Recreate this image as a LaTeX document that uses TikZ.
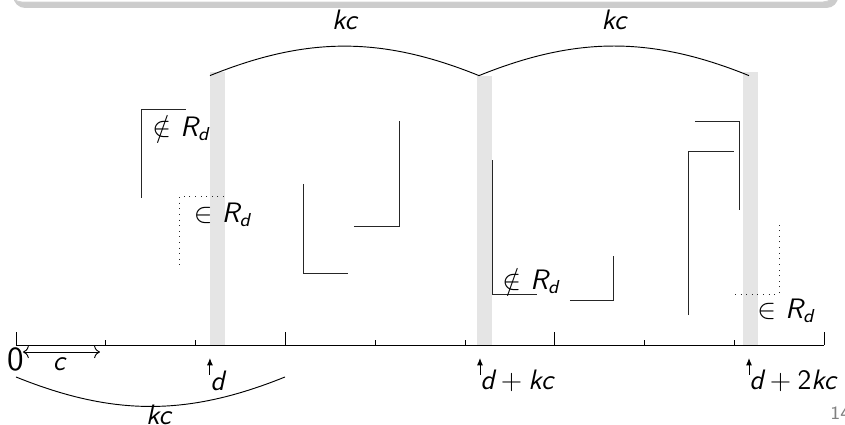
\documentclass[tikz,border=0pt,11pt]{standalone}
\usepackage{amsmath,amssymb}
\usepackage{tikz}
\usetikzlibrary{positioning,arrows.meta,shadows}

\begin{document}
\begin{tikzpicture}[x=1.347cm, y=1.347cm,
        seg/.style={black!85},
        segd/.style={black!85, dotted},
        band/.style={fill=gray!20, draw=none},
        lbl/.style={font=\large\sffamily\slshape, inner sep=1pt},
        mk/.style={-{Latex[length=1.1mm, width=0.9mm]}},
        pg/.style={font=\scriptsize\sffamily, gray, inner sep=0pt}
    ]
    \clip (-0.178,-0.880) rectangle (9.232,3.842);

    %% ---- block frame (lower edge) ----
    \path[fill=white, draw=gray!35, rounded corners=5pt,
          drop shadow={shadow xshift=0.5mm, shadow yshift=-0.9mm, opacity=0.4}]
          (-0.067,3.82) rectangle (9.12,4.6);

    %% ---- shaded columns ----
    \foreach \x/\t in {2.16/3.04, 5.134/2.996, 8.096/3.04}
        \fill[band] (\x,0) rectangle ++(0.167,\t);

    %% ---- axis ----
    \coordinate (o) at (0,0);
    \coordinate (e) at (9,0);
    \draw (o) -- (e);
    \foreach \i in {0,3,6,9}
        \draw (\i,0) -- ++(0,0.145);
    \foreach \i in {1,2,4,5,7,8}
        \draw (\i,0) -- ++(0,0.056);
    \node[lbl, font=\Large\sffamily] (zero) at (0,-0.156) {0};
    % c
    \coordinate (c0) at (0.078,-0.078);
    \coordinate (c1) at (0.935,-0.078);
    \draw[<->] (c0) -- (c1);
    \node[lbl] (cl) at (0.479,-0.212) {c};
    % kc below
    \coordinate (q0) at (0,-0.356);
    \coordinate (q1) at (2.996,-0.356);
    \draw (q0) to[bend right=22] node[lbl, below=-2pt, xshift=1.2mm] (kc0) {kc} (q1);

    %% ---- d, d+kc, d+2kc ----
    \foreach \x/\t [count=\n] in {2.16/{d}, 5.167/{d${}+{}$kc}, 8.163/{d${}+{}$\textup{2}kc}} {
        \coordinate (db\n) at (\x,-0.334);
        \coordinate (dt\n) at (\x,-0.145);
        \draw[mk] (db\n) -- (dt\n);
        \node[lbl, anchor=west, inner sep=0pt] (dl\n) at (\x,-0.40) {\t};
    }

    %% ---- kc arcs on top ----
    \coordinate (p0) at (2.16,3.0);
    \coordinate (p1) at (5.156,3.0);
    \coordinate (p2) at (8.163,3.0);
    \draw (p0) to[bend left=22] node[lbl, above=2mm] (kc1) {kc} (p1)
               to[bend left=22] node[lbl, above=2mm] (kc2) {kc} (p2);

    %% ---- intervals ----
    % first block
    \draw[seg]  (1.893,2.628) -- (1.392,2.628) -- (1.392,1.637);
    \node[lbl] (n1) at (1.837,2.416) {$\notin$ R$_\text{d}$};
    \draw[segd] (2.316,1.659) -- (1.826,1.659) -- (1.826,0.835);
    \node[lbl] (i1) at (2.300,1.448) {$\in$ R$_\text{d}$};
    \draw[seg]  (3.196,1.793) -- (3.196,0.802) -- (3.697,0.802);
    \draw[seg]  (3.764,1.325) -- (4.265,1.325) -- (4.265,2.494);
    % second block
    \draw[seg]  (5.301,2.060) -- (5.301,0.568) -- (5.802,0.568);
    \node[lbl] (n2) at (5.735,0.713) {$\notin$ R$_\text{d}$};
    \draw[seg]  (6.169,0.501) -- (6.659,0.501) -- (6.659,0.991);
    % third block
    \draw[seg]  (7.561,2.494) -- (8.062,2.494) -- (8.062,1.503);
    \draw[seg]  (7.494,0.334) -- (7.494,2.160) -- (7.996,2.160);
    \draw[segd] (8.007,0.568) -- (8.497,0.568) -- (8.497,1.370);
    \node[lbl] (i2) at (8.575,0.379) {$\in$ R$_\text{d}$};

    %% ---- page number ----
    \node[pg, anchor=west] (pnum) at (9.065,-0.757) {14};

\end{tikzpicture}
\end{document}
